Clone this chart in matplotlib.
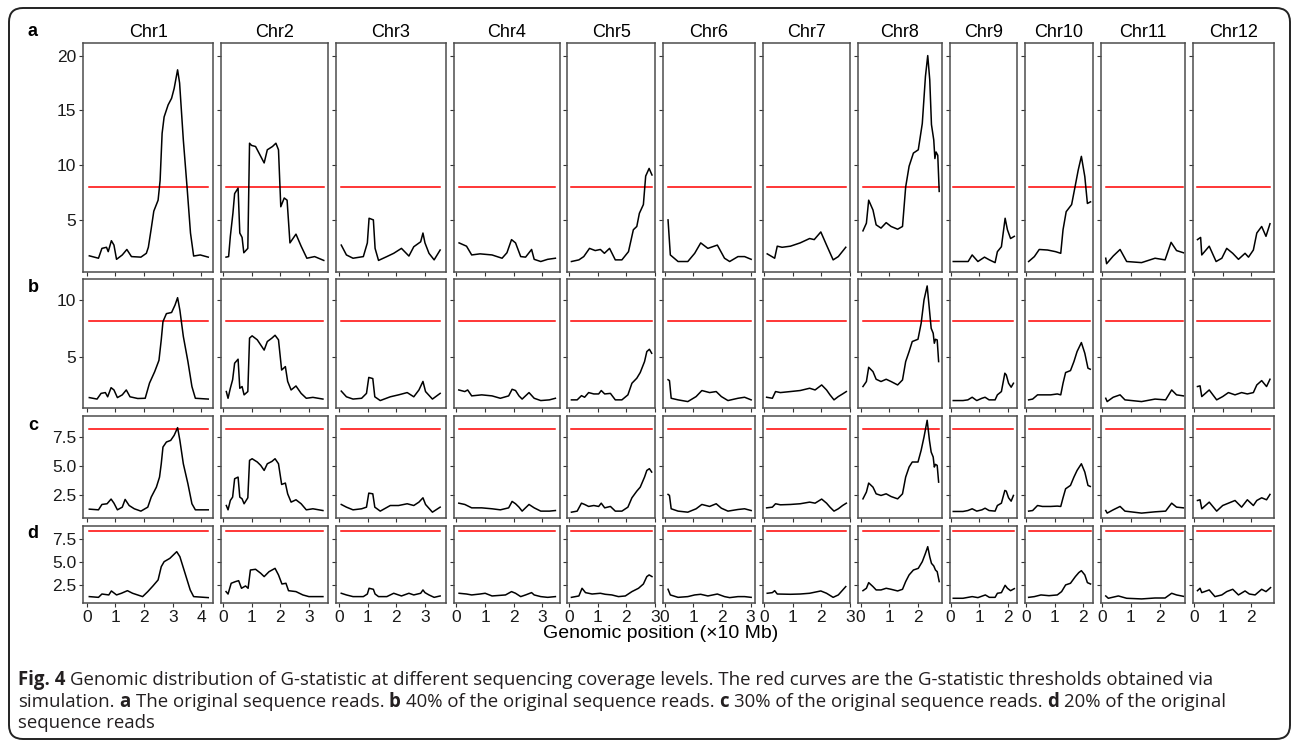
import numpy as np
import matplotlib
matplotlib.use('Agg')
import matplotlib.pyplot as plt
from matplotlib.patches import FancyBboxPatch


chroms = ['Chr1', 'Chr2', 'Chr3', 'Chr4', 'Chr5', 'Chr6',
          'Chr7', 'Chr8', 'Chr9', 'Chr10', 'Chr11', 'Chr12']
xlims = [(-0.13, 4.41), (-0.07, 3.67), (-0.11, 3.74), (-0.09, 3.60),
         (-0.05, 3.00), (-0.07, 3.17), (-0.03, 3.00), (-0.10, 2.83),
         (-0.04, 2.32), (-0.04, 2.33), (-0.06, 2.90), (-0.03, 2.79)]

row_labels = ['a', 'b', 'c', 'd']
ylims = [(0.25, 21.15), (0.5, 11.8), (0.53, 9.32), (0.59, 8.9)]
yticks = [[5, 10, 15, 20], [5, 10], [2.5, 5.0, 7.5], [2.5, 5.0, 7.5]]
ytick_labels = [['5', '10', '15', '20'], ['5', '10'],
                ['2.5', '5.0', '7.5'], ['2.5', '5.0', '7.5']]
thresholds = [8.03, 8.17, 8.22, 8.38]

# a: original reads
pos_a = [
    [0.09, 0.41, 0.53, 0.69, 0.75, 0.86, 0.95, 1.04, 1.24, 1.40, 1.56, 1.89, 2.08, 2.15, 2.25, 2.34,
     2.49, 2.56, 2.63, 2.70, 2.84, 2.96, 3.05, 3.17, 3.24, 3.37, 3.50, 3.62, 3.73, 3.96, 4.24],
    [0.11, 0.20, 0.26, 0.35, 0.41, 0.53, 0.59, 0.67, 0.73, 0.87, 0.93, 1.00, 1.14, 1.26, 1.44, 1.55,
     1.73, 1.85, 1.94, 2.02, 2.14, 2.24, 2.34, 2.55, 2.73, 2.93, 3.20, 3.52],
    [0.08, 0.26, 0.49, 0.85, 0.99, 1.05, 1.20, 1.26, 1.38, 1.67, 1.91, 2.18, 2.44, 2.61, 2.85, 2.93,
     3.00, 3.14, 3.32, 3.53],
    [0.09, 0.35, 0.53, 0.82, 1.24, 1.59, 1.76, 1.92, 2.06, 2.24, 2.41, 2.62, 2.71, 2.94, 3.18, 3.45],
    [0.09, 0.35, 0.52, 0.72, 0.92, 1.10, 1.24, 1.42, 1.62, 1.85, 2.08, 2.25, 2.37, 2.46, 2.60, 2.68,
     2.80, 2.90],
    [0.12, 0.20, 0.47, 0.81, 1.05, 1.26, 1.51, 1.84, 2.09, 2.27, 2.56, 2.79, 3.02],
    [0.11, 0.37, 0.46, 0.63, 0.92, 1.26, 1.59, 1.75, 1.98, 2.18, 2.41, 2.59, 2.85],
    [0.08, 0.20, 0.28, 0.43, 0.54, 0.71, 0.89, 1.06, 1.29, 1.46, 1.57, 1.69, 1.84, 2.01, 2.15, 2.26,
     2.34, 2.41, 2.47, 2.55, 2.59, 2.63, 2.69, 2.74],
    [0.09, 0.43, 0.61, 0.75, 0.95, 1.18, 1.35, 1.55, 1.63, 1.77, 1.90, 1.98, 2.09, 2.22],
    [0.09, 0.29, 0.46, 0.75, 1.03, 1.21, 1.29, 1.40, 1.59, 1.70, 1.82, 1.93, 2.05, 2.14, 2.25],
    [0.12, 0.15, 0.38, 0.62, 0.85, 1.37, 1.84, 2.19, 2.40, 2.59, 2.83],
    [0.12, 0.23, 0.27, 0.53, 0.77, 0.97, 1.14, 1.35, 1.55, 1.78, 1.90, 2.07, 2.19, 2.36, 2.51, 2.65],
]
g_a = [
    [1.72, 1.5, 2.4, 2.5, 2.1, 3.1, 2.7, 1.4, 1.8, 2.3, 1.65, 1.6, 1.95, 2.5, 4.2, 5.8,
     6.8, 8.6, 12.9, 14.4, 15.5, 16.1, 17.0, 18.7, 17.5, 12.3, 8.0, 3.8, 1.7, 1.8, 1.6],
    [1.6, 1.65, 3.5, 5.6, 7.4, 7.9, 3.8, 3.4, 2.0, 2.4, 12.0, 11.8, 11.7, 11.1, 10.2, 11.4,
     11.7, 12.0, 11.4, 6.2, 7.0, 6.8, 2.9, 3.7, 2.6, 1.5, 1.65, 1.3],
    [2.7, 1.8, 1.5, 1.65, 2.9, 5.15, 5.0, 2.4, 1.3, 1.65, 1.95, 2.4, 1.7, 2.55, 3.0, 3.8,
     2.9, 1.95, 1.35, 2.25],
    [2.9, 2.6, 1.8, 1.9, 1.8, 1.5, 2.0, 3.2, 2.9, 1.65, 1.6, 2.3, 1.4, 1.2, 1.4, 1.5],
    [1.2, 1.35, 1.65, 2.4, 2.2, 2.3, 1.95, 2.4, 1.35, 1.35, 2.1, 4.1, 4.4, 5.6, 6.4, 9.0,
     9.7, 9.1],
    [5.0, 1.8, 1.2, 1.2, 1.95, 2.9, 2.4, 2.7, 1.5, 1.2, 1.65, 1.65, 1.4],
    [1.9, 1.5, 2.6, 2.5, 2.6, 2.9, 3.3, 3.2, 3.9, 2.7, 1.35, 1.65, 2.5],
    [4.0, 4.7, 6.8, 5.9, 4.55, 4.25, 4.75, 4.4, 4.15, 4.4, 8.0, 9.9, 11.1, 11.4, 13.8, 18.1,
     20.0, 17.8, 13.7, 12.3, 10.6, 11.2, 10.9, 7.6],
    [1.2, 1.2, 1.2, 1.8, 1.2, 1.6, 1.35, 1.1, 2.1, 2.55, 5.15, 4.1, 3.3, 3.5],
    [1.2, 1.65, 2.3, 2.25, 2.1, 1.95, 4.1, 5.75, 6.4, 7.9, 9.55, 10.8, 8.95, 6.5, 6.65],
    [1.5, 1.0, 1.7, 2.3, 1.2, 1.1, 1.5, 1.35, 2.95, 2.2, 2.0],
    [3.2, 3.4, 1.8, 2.6, 1.2, 1.5, 2.4, 1.95, 1.4, 1.95, 1.6, 2.25, 3.8, 4.4, 3.5, 4.65],
]

# b: 40% of reads
pos_b = [
    [0.09, 0.36, 0.50, 0.65, 0.73, 0.85, 0.95, 1.07, 1.24, 1.38, 1.51, 1.78, 2.04, 2.19, 2.37, 2.52,
     2.60, 2.66, 2.78, 2.96, 3.08, 3.17, 3.25, 3.37, 3.53, 3.67, 3.79, 4.24],
    [0.12, 0.18, 0.26, 0.34, 0.41, 0.53, 0.59, 0.67, 0.74, 0.87, 0.93, 1.02, 1.20, 1.32, 1.44, 1.55,
     1.71, 1.82, 1.94, 2.05, 2.18, 2.26, 2.38, 2.55, 2.73, 2.91, 3.14, 3.49],
    [0.08, 0.26, 0.49, 0.79, 0.96, 1.04, 1.18, 1.25, 1.44, 1.79, 2.08, 2.38, 2.61, 2.79, 2.93, 3.02,
     3.26, 3.53],
    [0.08, 0.29, 0.39, 0.53, 0.88, 1.24, 1.53, 1.82, 1.94, 2.06, 2.18, 2.29, 2.53, 2.71, 2.94, 3.24,
     3.45],
    [0.09, 0.29, 0.44, 0.55, 0.69, 0.87, 1.04, 1.13, 1.25, 1.45, 1.62, 1.85, 2.06, 2.20, 2.37, 2.49,
     2.64, 2.72, 2.81, 2.89],
    [0.12, 0.17, 0.23, 0.47, 0.81, 1.10, 1.30, 1.57, 1.80, 1.98, 2.21, 2.56, 2.79, 3.02],
    [0.09, 0.29, 0.40, 0.57, 0.92, 1.26, 1.59, 1.78, 2.01, 2.18, 2.30, 2.44, 2.59, 2.74, 2.87],
    [0.08, 0.20, 0.28, 0.43, 0.54, 0.71, 0.89, 1.06, 1.29, 1.46, 1.57, 1.69, 1.80, 2.00, 2.11, 2.21,
     2.32, 2.40, 2.46, 2.53, 2.57, 2.61, 2.67, 2.72],
    [0.09, 0.43, 0.60, 0.75, 0.91, 1.09, 1.20, 1.34, 1.55, 1.63, 1.77, 1.89, 1.94, 2.02, 2.11, 2.19],
    [0.09, 0.23, 0.40, 0.57, 0.86, 1.09, 1.21, 1.29, 1.38, 1.55, 1.67, 1.78, 1.93, 2.05, 2.16, 2.24],
    [0.12, 0.17, 0.38, 0.62, 0.79, 1.37, 1.84, 2.21, 2.42, 2.59, 2.83],
    [0.12, 0.21, 0.27, 0.53, 0.79, 1.00, 1.20, 1.43, 1.66, 1.86, 2.07, 2.19, 2.36, 2.53, 2.65],
]
g_b = [
    [1.43, 1.3, 1.8, 1.87, 1.5, 2.3, 2.1, 1.43, 1.67, 2.1, 1.5, 1.35, 1.37, 2.7, 3.7, 4.7,
     6.5, 8.1, 8.8, 8.9, 9.55, 10.2, 9.1, 6.8, 4.6, 2.4, 1.37, 1.3],
    [1.96, 1.37, 2.25, 3.0, 4.45, 4.8, 2.25, 2.4, 1.67, 1.96, 6.65, 6.85, 6.5, 6.05, 5.6, 6.35,
     6.65, 6.9, 6.5, 3.85, 4.15, 2.85, 2.1, 2.45, 1.8, 1.37, 1.45, 1.3],
    [2.0, 1.5, 1.3, 1.37, 1.8, 3.2, 3.1, 1.5, 1.17, 1.5, 1.67, 1.87, 1.5, 2.1, 2.85, 1.96,
     1.3, 1.8],
    [2.1, 1.96, 2.1, 1.58, 1.67, 1.58, 1.37, 1.58, 2.16, 2.05, 1.58, 1.3, 1.87, 1.37, 1.17, 1.23,
     1.37],
    [1.23, 1.23, 1.6, 1.46, 1.87, 1.75, 1.75, 2.05, 1.75, 1.8, 1.23, 1.23, 1.67, 2.69, 3.13, 3.63,
     4.59, 5.47, 5.67, 5.32],
    [3.0, 2.92, 1.37, 1.23, 1.08, 1.52, 2.05, 1.87, 1.96, 1.52, 1.17, 1.37, 1.46, 1.23],
    [1.46, 1.37, 1.96, 1.87, 1.96, 2.05, 2.25, 2.1, 2.54, 2.1, 1.67, 1.23, 1.52, 1.75, 1.96],
    [2.4, 2.84, 4.09, 3.71, 3.04, 2.84, 3.04, 2.84, 2.54, 2.98, 4.59, 5.47, 6.35, 6.55, 7.95, 10.0,
     11.23, 9.12, 7.51, 7.08, 6.2, 6.55, 6.49, 4.59],
    [1.17, 1.17, 1.23, 1.46, 1.17, 1.37, 1.46, 1.23, 1.23, 1.67, 1.96, 3.57, 3.42, 2.69, 2.34, 2.69],
    [1.23, 1.3, 1.67, 1.67, 1.67, 1.75, 1.67, 2.69, 3.63, 3.8, 4.59, 5.47, 6.26, 5.32, 4.01, 3.92],
    [1.37, 1.08, 1.46, 1.67, 1.23, 1.08, 1.3, 1.23, 2.1, 1.67, 1.58],
    [2.4, 2.46, 1.52, 2.1, 1.23, 1.52, 1.87, 1.67, 1.87, 1.75, 1.87, 2.54, 2.92, 2.4, 3.04],
]

# c: 30% of reads
pos_c = [
    [0.09, 0.41, 0.53, 0.71, 0.85, 0.95, 1.07, 1.24, 1.34, 1.48, 1.66, 1.89, 2.13, 2.25, 2.43, 2.54,
     2.60, 2.66, 2.78, 2.93, 3.05, 3.17, 3.25, 3.37, 3.53, 3.67, 3.79, 4.24],
    pos_b[1], pos_b[2],
    [0.08, 0.29, 0.53, 0.88, 1.24, 1.53, 1.82, 1.94, 2.06, 2.18, 2.29, 2.53, 2.71, 2.94, 3.24, 3.45],
    pos_b[4], pos_b[5], pos_b[6], pos_b[7], pos_b[8], pos_b[9], pos_b[10], pos_b[11],
]
g_c = [
    [1.33, 1.27, 1.73, 1.79, 2.19, 1.84, 1.27, 1.5, 2.16, 1.64, 1.36, 1.16, 1.5, 2.36, 3.21, 4.07,
     5.21, 6.64, 7.07, 7.21, 7.64, 8.3, 7.21, 5.21, 3.5, 1.79, 1.27, 1.27],
    [1.64, 1.27, 2.07, 2.36, 3.93, 4.07, 2.36, 2.21, 1.79, 2.3, 5.5, 5.64, 5.36, 5.07, 4.64, 5.21,
     5.41, 5.64, 5.21, 3.44, 3.56, 2.64, 1.93, 2.13, 1.79, 1.27, 1.36, 1.21],
    [1.73, 1.5, 1.27, 1.36, 1.5, 2.7, 2.64, 1.5, 1.16, 1.64, 1.64, 1.79, 1.64, 1.93, 2.3, 1.73,
     1.07, 1.5],
    [1.84, 1.73, 1.44, 1.44, 1.36, 1.27, 1.44, 1.99, 1.79, 1.5, 1.16, 1.73, 1.44, 1.16, 1.16, 1.21],
    [1.07, 1.16, 1.84, 1.73, 1.56, 1.64, 1.56, 1.84, 1.44, 1.56, 1.16, 1.16, 1.5, 2.3, 2.87, 3.21,
     4.07, 4.64, 4.79, 4.5],
    [2.59, 2.5, 1.36, 1.16, 1.07, 1.36, 1.73, 1.56, 1.79, 1.41, 1.16, 1.3, 1.36, 1.21],
    [1.44, 1.5, 1.79, 1.7, 1.73, 1.79, 1.93, 1.84, 2.19, 1.84, 1.5, 1.16, 1.36, 1.64, 1.84],
    [2.21, 2.79, 3.56, 3.21, 2.64, 2.5, 2.64, 2.41, 2.21, 2.64, 4.07, 4.93, 5.36, 5.36, 6.36, 7.5,
     8.93, 7.21, 6.21, 5.79, 4.93, 5.16, 5.07, 3.64],
    [1.13, 1.13, 1.21, 1.36, 1.16, 1.27, 1.41, 1.21, 1.16, 1.64, 1.84, 2.93, 2.87, 2.3, 2.01, 2.5],
    [1.16, 1.21, 1.64, 1.56, 1.56, 1.59, 1.56, 2.3, 3.07, 3.36, 4.07, 4.64, 5.21, 4.5, 3.36, 3.27],
    [1.21, 0.99, 1.27, 1.56, 1.16, 0.99, 1.1, 1.16, 1.84, 1.5, 1.44],
    [2.07, 2.13, 1.36, 1.93, 1.16, 1.64, 1.84, 2.07, 1.5, 2.13, 1.64, 2.07, 2.3, 2.13, 2.59],
]

# d: 20% of reads
pos_d = [
    [0.09, 0.41, 0.53, 0.77, 0.86, 1.04, 1.21, 1.42, 1.60, 1.95, 2.13, 2.31, 2.49, 2.60, 2.70, 2.90,
     3.02, 3.14, 3.25, 3.43, 3.61, 3.73, 4.24],
    [0.11, 0.18, 0.29, 0.44, 0.55, 0.65, 0.79, 0.88, 0.96, 1.14, 1.32, 1.44, 1.61, 1.82, 1.94, 2.06,
     2.20, 2.29, 2.55, 2.79, 3.00, 3.49],
    pos_a[2],
    [0.09, 0.35, 0.53, 0.82, 1.00, 1.24, 1.71, 1.92, 2.06, 2.24, 2.41, 2.62, 2.71, 2.94, 3.18, 3.45],
    [0.09, 0.35, 0.46, 0.58, 0.81, 1.10, 1.27, 1.50, 1.73, 1.97, 2.20, 2.43, 2.60, 2.72, 2.80, 2.90],
    pos_a[5],
    [0.11, 0.29, 0.37, 0.46, 0.92, 1.26, 1.59, 1.98, 2.18, 2.41, 2.59, 2.85],
    [0.08, 0.20, 0.28, 0.43, 0.54, 0.71, 0.89, 1.06, 1.29, 1.46, 1.57, 1.69, 1.84, 2.01, 2.15, 2.26,
     2.34, 2.41, 2.47, 2.55, 2.61, 2.67, 2.74],
    [0.09, 0.43, 0.75, 0.95, 1.21, 1.35, 1.55, 1.63, 1.77, 1.90, 1.98, 2.09, 2.22],
    [0.09, 0.29, 0.52, 0.80, 1.09, 1.24, 1.38, 1.55, 1.72, 1.84, 1.93, 2.05, 2.14, 2.25],
    [0.12, 0.21, 0.56, 0.85, 1.37, 1.84, 2.19, 2.42, 2.59, 2.83],
    [0.12, 0.21, 0.27, 0.53, 0.73, 0.97, 1.14, 1.35, 1.55, 1.78, 1.93, 2.13, 2.36, 2.51, 2.67],
]
g_d = [
    [1.28, 1.2, 1.56, 1.46, 1.89, 1.46, 1.64, 1.92, 1.64, 1.28, 1.82, 2.43, 3.08, 4.51, 5.05, 5.41,
     5.77, 6.13, 5.59, 3.8, 2.0, 1.28, 1.17],
    [1.82, 1.56, 2.72, 2.9, 3.0, 2.18, 2.43, 2.18, 4.15, 4.23, 3.8, 3.44, 3.97, 4.33, 3.62, 2.64,
     2.72, 1.92, 1.82, 1.46, 1.28, 1.28],
    [1.64, 1.46, 1.28, 1.28, 1.56, 2.18, 2.07, 1.56, 1.28, 1.28, 1.64, 1.35, 1.64, 1.46, 1.64, 2.0,
     1.71, 1.46, 1.2, 1.35],
    [1.64, 1.56, 1.46, 1.56, 1.64, 1.35, 1.46, 1.82, 1.64, 1.28, 1.46, 1.71, 1.46, 1.28, 1.2, 1.28],
    [1.2, 1.35, 2.18, 1.71, 1.56, 1.64, 1.53, 1.46, 1.28, 1.35, 1.82, 2.18, 2.64, 3.44, 3.62, 3.44],
    [2.07, 1.46, 1.2, 1.28, 1.46, 1.53, 1.35, 1.56, 1.28, 1.17, 1.28, 1.28, 1.2],
    [1.64, 1.71, 1.92, 1.56, 1.53, 1.56, 1.64, 1.89, 1.64, 1.2, 1.46, 2.36],
    [1.92, 2.18, 2.79, 2.36, 2.0, 2.0, 2.18, 2.07, 1.89, 2.07, 2.9, 3.62, 4.15, 4.33, 5.05, 5.95,
     6.67, 5.59, 4.87, 4.59, 4.15, 3.97, 2.9],
    [1.1, 1.1, 1.28, 1.17, 1.46, 1.2, 1.2, 1.64, 1.71, 2.5, 2.18, 1.92, 2.14],
    [1.2, 1.28, 1.46, 1.38, 1.46, 1.82, 2.54, 2.72, 3.44, 3.87, 4.08, 3.62, 2.79, 2.64],
    [1.35, 1.1, 1.35, 1.1, 1.03, 1.13, 1.13, 1.64, 1.46, 1.31],
    [1.92, 2.18, 1.71, 2.0, 1.28, 1.46, 1.82, 2.07, 1.46, 1.89, 1.56, 1.46, 2.07, 1.82, 2.25],
]

positions = [pos_a, pos_b, pos_c, pos_d]
gstats = [g_a, g_b, g_c, g_d]

caption_1 = [('Fig. 4', True),
             ('Genomic distribution of G-statistic at different sequencing coverage levels. '
              'The red curves are the G-statistic thresholds obtained via', False)]
caption_2 = [('simulation.', False), ('a', True), ('The original sequence reads.', False),
             ('b', True), ('40% of the original sequence reads.', False),
             ('c', True), ('30% of the original sequence reads.', False),
             ('d', True), ('20% of the original', False)]
caption_3 = [('sequence reads', False)]


W, H = 1295, 741
fig = plt.figure(figsize=(W / 100, H / 100), dpi=100)
plt.rcParams['font.family'] = ['Liberation Sans', 'DejaVu Sans']

widths = [hi - lo for lo, hi in xlims]
heights = [(ylims[i][1] - ylims[i][0]) * s for i, s in enumerate([10.96, 11.4, 11.7, 9.27])]
gs = fig.add_gridspec(4, 12, left=83 / W, right=1274 / W, top=1 - 43 / H, bottom=1 - 603 / H,
                      width_ratios=widths, height_ratios=heights, wspace=0.084, hspace=0.056)

frame_col = '#4d4d4d'
for r in range(4):
    for c in range(12):
        ax = fig.add_subplot(gs[r, c])
        x = positions[r][c]
        y = gstats[r][c]
        ax.plot([x[0], x[-1]], [thresholds[r], thresholds[r]], color='#ff0000', lw=1.1)
        ax.plot(x, y, color='black', lw=1.1)
        ax.set_xlim(xlims[c])
        ax.set_ylim(ylims[r])
        ax.set_xticks(np.arange(0, int(xlims[c][1]) + 1))
        ax.set_yticks(yticks[r])
        for s in ax.spines.values():
            s.set_color(frame_col)
            s.set_linewidth(1.1)
        ax.tick_params(length=3, width=0.8, color='#333333', labelsize=12.5,
                       labelcolor='#1a1a1a', pad=2)
        if c == 0:
            ax.set_yticklabels(ytick_labels[r])
        else:
            ax.set_yticklabels([])
        if r < 3:
            ax.set_xticklabels([])
        if r == 0:
            ax.set_title(chroms[c], fontsize=13, pad=4)

for lab, yy in zip(row_labels, [32, 287, 425, 533]):
    fig.text(33 / W, 1 - yy / H, lab, fontsize=13, fontweight='bold', ha='center', va='center')

fig.text(661 / W, 1 - 634 / H, 'Genomic position (\u00d710 Mb)', fontsize=14,
         ha='center', va='center')

# rounded frame round the whole figure
box = FancyBboxPatch((9, 2), 1281, H - 10, boxstyle='round,pad=0,rounding_size=14',
                     transform=None, fill=False, ec='#222222', lw=1.4)
fig.add_artist(box)

renderer = fig.canvas.get_renderer()
cap_size = 13.4
space = None
for runs, yy in zip([caption_1, caption_2, caption_3], [680, 702, 723]):
    xx = 18 / W
    for txt, bold in runs:
        t = fig.text(xx, 1 - yy / H, txt, fontsize=cap_size, family='Open Sans',
                     fontweight='bold' if bold else 'normal', color='#231f20',
                     ha='left', va='center')
        if space is None:
            t1 = fig.text(0, 0, 'x x', fontsize=cap_size, family='Open Sans')
            t2 = fig.text(0, 0, 'xx', fontsize=cap_size, family='Open Sans')
            space = (t1.get_window_extent(renderer).width - t2.get_window_extent(renderer).width) / W
            t1.remove()
            t2.remove()
        xx += t.get_window_extent(renderer).width / W + space

fig.savefig('out.png', dpi=100)
